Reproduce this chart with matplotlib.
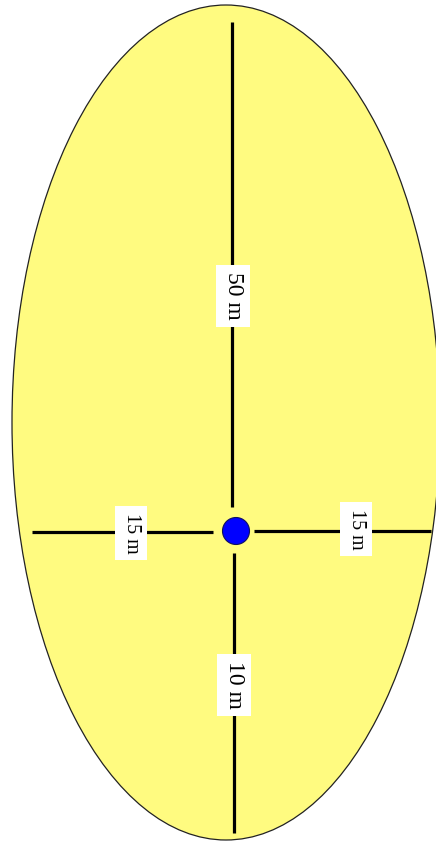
"""Schematic: elliptical area with distances from a central point."""
import matplotlib
matplotlib.use("Agg")
import matplotlib.pyplot as plt
from matplotlib.patches import Ellipse, Circle

# distances shown on the four arms (up, left, right, down)
directions = ["up", "left", "right", "down"]
distances = [50, 15, 15, 10]
labels = [f"{d} m" for d in distances]

W, H = 436, 842

# layout in pixel coordinates (schematic, not to scale)
ARMS = {
    "up": ((232, 22), (232, 507)),
    "left": ((32, 532), (213, 532)),
    "right": ((254, 531), (431, 531)),
    "down": ((234, 553), (234, 833)),
}
LABEL_POS = {
    "up": (233, 296, 17),
    "left": (131, 533, 14.5),
    "right": (356, 529, 14.5),
    "down": (234, 685, 17),
}


def main():
    fig = plt.figure(figsize=(W / 100, H / 100), dpi=100)
    ax = fig.add_axes([0, 0, 1, 1])
    ax.set_xlim(0, W)
    ax.set_ylim(H, 0)
    ax.axis("off")

    ax.add_patch(Ellipse((226, 422.5), 428, 835, facecolor="#FFFB80",
                         edgecolor="#222222", lw=0.9, zorder=1))

    for d in directions:
        (x0, y0), (x1, y1) = ARMS[d]
        ax.plot([x0, x1], [y0, y1], color="black", lw=2.3,
                solid_capstyle="butt", zorder=2)

    ax.add_patch(Circle((236, 531), 13.5, facecolor="#0000FF",
                        edgecolor="#101060", lw=0.8, zorder=3))

    for d, lab in zip(directions, labels):
        x, y, fs = LABEL_POS[d]
        ax.text(x, y, lab, rotation=-90, ha="center", va="center",
                family="Liberation Serif", fontsize=fs, color="black",
                bbox=dict(facecolor="white", edgecolor="none", pad=5),
                zorder=4)

    fig.savefig("out.png", dpi=100)
    plt.close(fig)


if __name__ == "__main__":
    main()
